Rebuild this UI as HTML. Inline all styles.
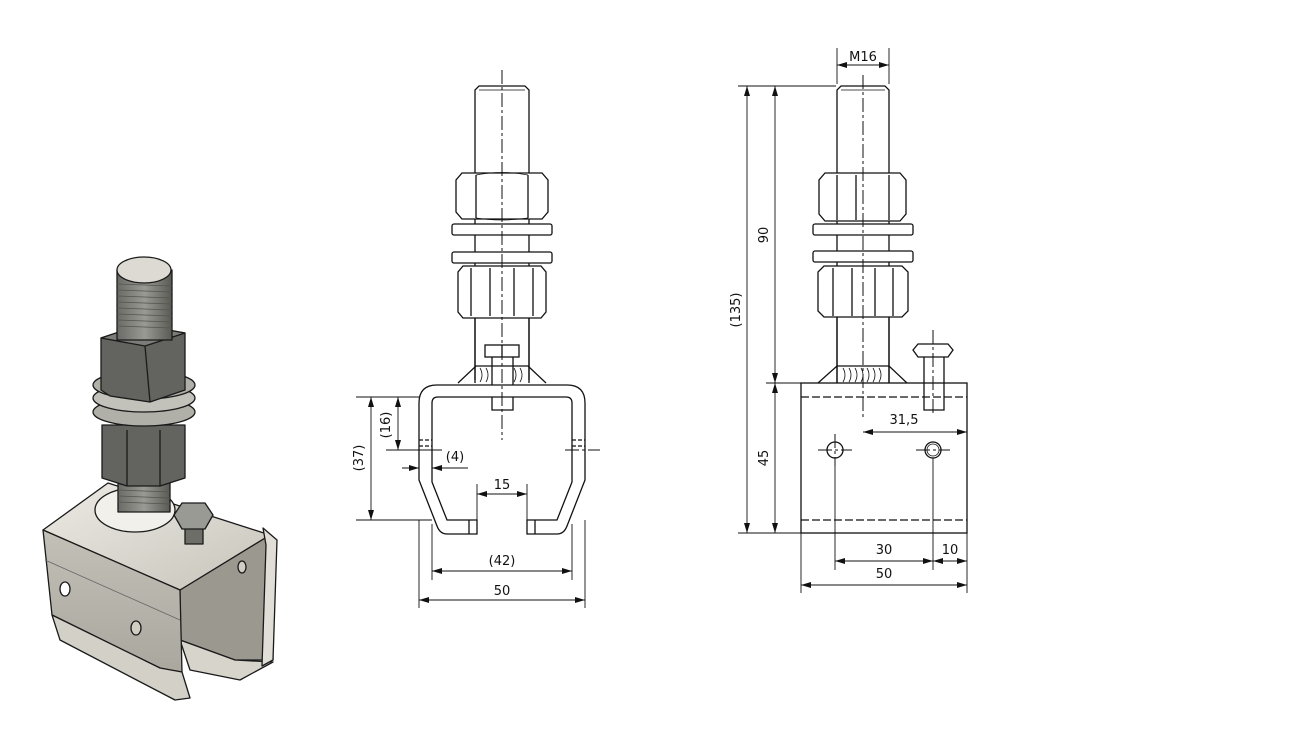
<!DOCTYPE html>
<html><head><meta charset="utf-8"><style>
html,body{margin:0;padding:0;background:#fff;}
svg{display:block;}
text{font-family:"DejaVu Sans","Liberation Sans",sans-serif;font-size:13px;fill:#111;}
</style></head><body>
<svg width="1316" height="739" viewBox="0 0 1316 739" xmlns="http://www.w3.org/2000/svg">
<defs>
<marker id="a" viewBox="0 0 10 6" refX="10" refY="3" markerWidth="10" markerHeight="6" orient="auto-start-reverse" markerUnits="userSpaceOnUse"><path d="M0,0 L10,3 L0,6 z" fill="#111"/></marker>
<linearGradient id="st" x1="0" x2="1"><stop offset="0" stop-color="#6a6a66"/><stop offset="0.5" stop-color="#9a9a94"/><stop offset="1" stop-color="#5a5a54"/></linearGradient>
<linearGradient id="ch" x1="0" x2="1" y1="0" y2="1"><stop offset="0" stop-color="#eceae3"/><stop offset="1" stop-color="#c6c4ba"/></linearGradient>
<linearGradient id="fr" x1="0" x2="0" y1="0" y2="1"><stop offset="0" stop-color="#c2c0b7"/><stop offset="1" stop-color="#a9a79e"/></linearGradient>
</defs>

<!-- ===== Isometric view ===== -->
<g stroke="#1a1a1a" stroke-width="1.3" stroke-linejoin="round">
  <polygon points="180,590 270,535 273,660 235,660 180,640" fill="#9a988f"/>
  <polygon points="180,640 235,660 273,662 240,680 190,670" fill="#d6d4cb"/>
  <polygon points="43,530 108,483 270,535 180,590" fill="url(#ch)"/>
  <polygon points="43,530 180,590 182,672 170,670 160,668 52,615" fill="url(#fr)"/>
  <polygon points="52,615 160,668 182,672 190,698 175,700 60,640" fill="#d2d0c7"/>
  <polygon points="263,528 277,540 273,660 262,666 266,545" fill="#e0ded6"/>
  <line x1="45" y1="560" x2="180" y2="620" stroke="#666" stroke-width="0.8"/>
  <ellipse cx="65" cy="589" rx="5" ry="7" fill="#fff"/>
  <ellipse cx="136" cy="628" rx="5" ry="7" fill="#d0cec4"/>
  <ellipse cx="242" cy="567" rx="4" ry="6" fill="#d0cec4"/>
  <ellipse cx="135" cy="510" rx="40" ry="22" fill="#f2f0ea"/>
  <rect x="118" y="470" width="52" height="42" fill="url(#st)"/>
  <g stroke="#55554f" stroke-width="0.8">
    <line x1="118" y1="490" x2="170" y2="492"/><line x1="118" y1="496" x2="170" y2="498"/><line x1="118" y1="502" x2="170" y2="504"/>
  </g>
  <rect x="185" y="522" width="18" height="22" fill="#6e6e68"/>
  <polygon points="174,515 182,503 205,503 213,515 205,529 182,529" fill="#9a9a94"/>
  <polygon points="102,425 185,425 185,478 160,486 127,486 102,478" fill="#636360"/>
  <line x1="127" y1="430" x2="127" y2="486"/><line x1="160" y1="430" x2="160" y2="486"/>
  <ellipse cx="144" cy="412" rx="51" ry="14" fill="#b0afa8"/>
  <ellipse cx="144" cy="398" rx="51" ry="14" fill="#c2c1ba"/>
  <ellipse cx="144" cy="385" rx="51" ry="14" fill="#b0afa8"/>
  <polygon points="101,338 140,325 185,333 185,390 150,402 110,396 101,390" fill="#636360"/>
  <polygon points="101,338 140,325 185,333 145,346" fill="#7c7c78"/>
  <line x1="145" y1="346" x2="150" y2="402"/>
  <rect x="117" y="270" width="55" height="70" fill="url(#st)"/>
  <g stroke="#55554f" stroke-width="0.8">
    <line x1="117" y1="290" x2="172" y2="292"/><line x1="117" y1="296" x2="172" y2="298"/><line x1="117" y1="302" x2="172" y2="304"/>
    <line x1="117" y1="308" x2="172" y2="310"/><line x1="117" y1="314" x2="172" y2="316"/><line x1="117" y1="320" x2="172" y2="322"/>
    <line x1="117" y1="326" x2="172" y2="328"/><line x1="117" y1="284" x2="172" y2="286"/>
  </g>
  <ellipse cx="144" cy="270" rx="27" ry="13" fill="#dcdad2"/>
</g>

<!-- ===== Middle view ===== -->
<g fill="none" stroke="#111" stroke-width="1.3">
  <path d="M475,380 V90 L479,86 H525 L529,90 V380"/>
  <line x1="479" y1="90" x2="525" y2="90" stroke-width="0.8"/>
  <path d="M462,173 H542 L548,180 V212 L542,219 H462 L456,212 V180 Z" fill="#fff"/>
  <line x1="476" y1="175" x2="476" y2="218"/><line x1="528" y1="175" x2="528" y2="218"/>
  <path d="M476,175 Q502,170 528,175 M476,218 Q502,222 528,218" stroke-width="0.8"/>
  <rect x="452" y="224" width="100" height="11" rx="2" fill="#fff"/>
  <rect x="452" y="252" width="100" height="11" rx="2" fill="#fff"/>
  <path d="M463,266 H541 L546,272 V312 L541,318 H463 L458,312 V272 Z" fill="#fff"/>
  <line x1="471" y1="268" x2="471" y2="316"/><line x1="490" y1="268" x2="490" y2="316"/>
  <line x1="514" y1="268" x2="514" y2="316"/><line x1="533" y1="268" x2="533" y2="316"/>
  <line x1="475" y1="318" x2="475" y2="383"/><line x1="529" y1="318" x2="529" y2="383"/>
  <path d="M458,383 L476,366 H528 L546,383"/>
  <path d="M480,368 q4,7 0,14 M486,368 q4,7 0,14 M514,368 q4,7 0,14 M520,368 q4,7 0,14" stroke-width="0.8"/>
  <rect x="485" y="345" width="34" height="12" fill="#fff"/>
  <line x1="502" y1="345" x2="502" y2="357"/>
  <path d="M492,357 V410 H513 V357"/>
  <path d="M477,534 H447 Q440,534 437,526 L419,480 V403 Q419,385 437,385 H567 Q585,385 585,403 V480 L567,526 Q564,534 557,534 H527 V520 H557 L572,482 V403 Q572,397 566,397 H438 Q432,397 432,403 V482 L447,520 H477 Z" fill="#fff"/>
  <line x1="469" y1="520" x2="469" y2="534"/><line x1="535" y1="520" x2="535" y2="534"/>
  <path d="M419,440 h13 M419,446 h13 M572,440 h13 M572,446 h13" stroke-dasharray="4,2"/>
</g>
<g stroke="#111" stroke-width="1" fill="none" stroke-dasharray="14,3,3,3">
  <line x1="502" y1="70" x2="502" y2="440"/>
  <line x1="565" y1="450" x2="600" y2="450"/>
</g>
<g stroke="#111" stroke-width="0.9" fill="none">
  <line x1="356" y1="397" x2="420" y2="397"/>
  <line x1="356" y1="520" x2="432" y2="520"/>
  <line x1="386" y1="450" x2="442" y2="450"/>
  <line x1="371" y1="397" x2="371" y2="520" marker-start="url(#a)" marker-end="url(#a)"/>
  <line x1="398" y1="397" x2="398" y2="450" marker-start="url(#a)" marker-end="url(#a)"/>
  <line x1="402" y1="468" x2="419" y2="468" marker-end="url(#a)"/>
  <line x1="432" y1="468" x2="468" y2="468" marker-start="url(#a)"/>
  <line x1="477" y1="484" x2="477" y2="520"/><line x1="527" y1="484" x2="527" y2="520"/>
  <line x1="477" y1="494" x2="527" y2="494" marker-start="url(#a)" marker-end="url(#a)"/>
  <line x1="432" y1="524" x2="432" y2="580"/><line x1="572" y1="524" x2="572" y2="580"/>
  <line x1="432" y1="571" x2="572" y2="571" marker-start="url(#a)" marker-end="url(#a)"/>
  <line x1="419" y1="520" x2="419" y2="608"/><line x1="585" y1="520" x2="585" y2="608"/>
  <line x1="419" y1="600" x2="585" y2="600" marker-start="url(#a)" marker-end="url(#a)"/>
</g>
<text x="455" y="461" text-anchor="middle">(4)</text>
<text x="502" y="489" text-anchor="middle">15</text>
<text x="502" y="565" text-anchor="middle">(42)</text>
<text x="502" y="595" text-anchor="middle">50</text>
<text transform="translate(390,425) rotate(-90)" text-anchor="middle">(16)</text>
<text transform="translate(363,458) rotate(-90)" text-anchor="middle">(37)</text>

<!-- ===== Right view ===== -->
<g fill="none" stroke="#111" stroke-width="1.3">
  <path d="M837,383 V90 L841,86 H885 L889,90 V383"/>
  <line x1="841" y1="90" x2="885" y2="90" stroke-width="0.8"/>
  <path d="M825,173 H900 L906,180 V214 L900,221 H825 L819,214 V180 Z" fill="#fff"/>
  <line x1="837" y1="175" x2="837" y2="220"/><line x1="856" y1="175" x2="856" y2="220"/><line x1="889" y1="175" x2="889" y2="220"/>
  <rect x="813" y="224" width="100" height="11" rx="2" fill="#fff"/>
  <rect x="813" y="251" width="100" height="11" rx="2" fill="#fff"/>
  <path d="M824,266 H902 L908,272 V311 L902,317 H824 L818,311 V272 Z" fill="#fff"/>
  <line x1="833" y1="268" x2="833" y2="316"/><line x1="852" y1="268" x2="852" y2="316"/><line x1="875" y1="268" x2="875" y2="316"/><line x1="893" y1="268" x2="893" y2="316"/>
  <line x1="837" y1="317" x2="837" y2="383"/><line x1="889" y1="317" x2="889" y2="383"/>
  <path d="M818,383 L837,366 H889 L907,383"/>
  <path d="M843,368 q4,7 0,14 M849,368 q4,7 0,14 M855,368 q4,7 0,14 M861,368 q4,7 0,14 M867,368 q4,7 0,14 M873,368 q4,7 0,14 M879,368 q4,7 0,14" stroke-width="0.8"/>
  <rect x="801" y="383" width="166" height="150" fill="#fff"/>
  <path d="M801,397 H967 M801,520 H967" stroke-dasharray="8,3"/>
  <path d="M918,344 H948 L953,350 L948,357 H918 L913,350 Z" fill="#fff"/>
  <path d="M924,357 V410 H944 V357"/>
  <circle cx="835" cy="450" r="8"/>
  <circle cx="933" cy="450" r="8"/><circle cx="933" cy="450" r="6" stroke-width="0.8"/>
</g>
<g stroke="#111" stroke-width="1" fill="none" stroke-dasharray="14,3,3,3">
  <line x1="863" y1="75" x2="863" y2="420"/>
  <line x1="835" y1="434" x2="835" y2="466"/><line x1="818" y1="450" x2="852" y2="450"/>
  <line x1="933" y1="330" x2="933" y2="416"/>
  <line x1="916" y1="450" x2="950" y2="450"/>
</g>
<g stroke="#111" stroke-width="0.9" fill="none">
  <line x1="837" y1="48" x2="837" y2="84"/><line x1="889" y1="48" x2="889" y2="84"/>
  <line x1="837" y1="65" x2="889" y2="65" marker-start="url(#a)" marker-end="url(#a)"/>
  <line x1="738" y1="86" x2="836" y2="86"/>
  <line x1="766" y1="383" x2="801" y2="383"/>
  <line x1="738" y1="533" x2="801" y2="533"/>
  <line x1="747" y1="86" x2="747" y2="533" marker-start="url(#a)" marker-end="url(#a)"/>
  <line x1="775" y1="86" x2="775" y2="383" marker-start="url(#a)" marker-end="url(#a)"/>
  <line x1="775" y1="383" x2="775" y2="533" marker-start="url(#a)" marker-end="url(#a)"/>
  <line x1="863" y1="432" x2="967" y2="432" marker-start="url(#a)" marker-end="url(#a)"/>
  <line x1="835" y1="458" x2="835" y2="570"/><line x1="933" y1="458" x2="933" y2="570"/>
  <line x1="801" y1="533" x2="801" y2="593"/><line x1="967" y1="533" x2="967" y2="593"/>
  <line x1="835" y1="561" x2="933" y2="561" marker-start="url(#a)" marker-end="url(#a)"/>
  <line x1="933" y1="561" x2="967" y2="561" marker-start="url(#a)" marker-end="url(#a)"/>
  <line x1="801" y1="585" x2="967" y2="585" marker-start="url(#a)" marker-end="url(#a)"/>
</g>
<text x="863" y="61" text-anchor="middle">M16</text>
<text x="904" y="424" text-anchor="middle">31,5</text>
<text x="884" y="554" text-anchor="middle">30</text>
<text x="950" y="554" text-anchor="middle">10</text>
<text x="884" y="578" text-anchor="middle">50</text>
<text transform="translate(768,235) rotate(-90)" text-anchor="middle">90</text>
<text transform="translate(768,458) rotate(-90)" text-anchor="middle">45</text>
<text transform="translate(740,310) rotate(-90)" text-anchor="middle">(135)</text>
</svg>
</body></html>
